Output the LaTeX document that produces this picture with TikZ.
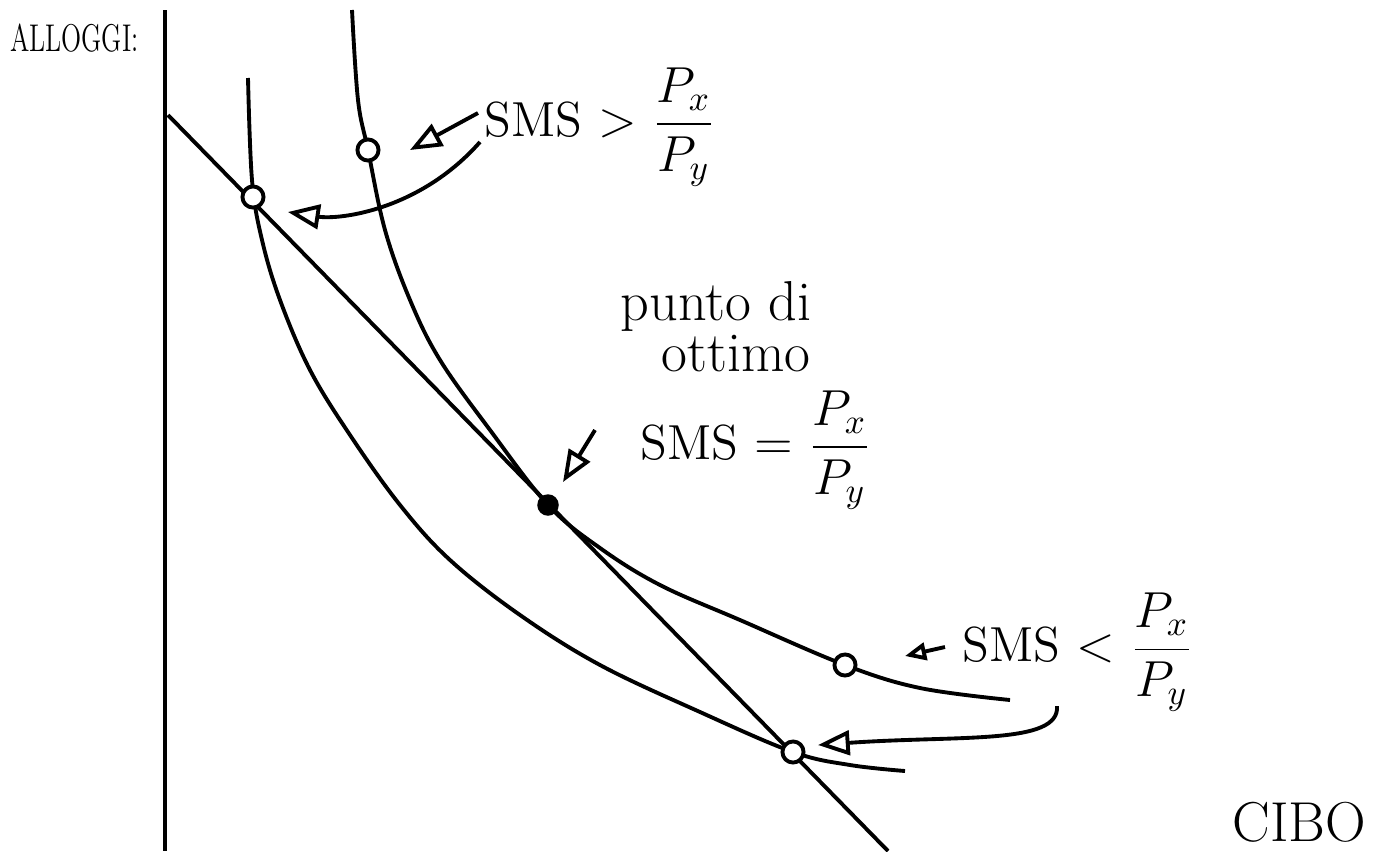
\documentclass[tikz,border=0pt]{standalone}
\usepackage{tikz}
\usepackage{graphicx}
\usepackage{xcolor}
\usetikzlibrary{arrows.meta}
\newcommand{\FT}{\fontsize{14}{17}\selectfont}
\newcommand{\FP}{\fontsize{11}{13}\selectfont}

\begin{document}
\begin{tikzpicture}[x=0.01cm,y=-0.01cm]
\tikzstyle{testo}=[draw=none,fill=none,black,font=\FT,inner sep=1pt]
\tikzstyle{linea}=[black,line width=1.1pt]
\tikzstyle{punto}=[draw=black,line width=1.1pt,fill=white,circle,inner sep=0pt,minimum size=6pt]
\tikzstyle{freccia}=[black,line width=1.1pt,-{Triangle[open,length=9pt,width=7pt]}]

\useasboundingbox (0,0) rectangle (1389,851);

% assi
\coordinate (O) at (165,851);
\coordinate (Ytop) at (165,10);
\draw[linea] (Ytop) -- (O);

% vincolo di bilancio
\coordinate (V1) at (168,115);
\coordinate (V2) at (888,851);
\draw[linea] (V1) -- (V2);

% curve di indifferenza
\draw[linea] plot[smooth,tension=0.6] coordinates {(248,78) (252,180) (262,240) (280,300) (310,370) (350,435) (400,505) (450,560) (520,615) (600,665) (700,712) (793,752) (850,765) (905,771)};
\draw[linea] plot[smooth,tension=0.6] coordinates {(352,10) (358,100) (368,150) (385,230) (410,300) (440,360) (490,430) (548,505) (600,548) (660,585) (740,620) (845,665) (920,688) (1010,700)};

% punti
\node[punto] (A) at (368,150) {};
\node[punto] (B) at (253,197) {};
\node[punto,fill=black,minimum size=5pt] (E) at (548,505) {};
\node[punto] (C) at (845,665) {};
\node[punto] (D) at (793,752) {};

% testi
\node[testo,font=\FP,anchor=west] (ALL) at (6,38) {\scalebox{0.68}[1]{ALLOGGI:}};
\node[testo,anchor=west] (SM1) at (480,127) {SMS $>$ $\displaystyle\frac{P_x}{P_y}$};
\node[testo,font=\fontsize{16}{19}\selectfont] (PO1) at (716,306) {punto di};
\node[testo,font=\fontsize{16}{19}\selectfont] (PO2) at (736,354) {ottimo};
\node[testo,anchor=west] (SM2) at (636,450) {SMS $=$ $\displaystyle\frac{P_x}{P_y}$};
\node[testo,anchor=west] (SM3) at (958,652) {SMS $<$ $\displaystyle\frac{P_x}{P_y}$};
\node[testo,font=\fontsize{16}{19}\selectfont,anchor=east] (CIB) at (1370,822) {CIBO};

% frecce
\coordinate (F1) at (478,113);
\coordinate (F1b) at (410,150);
\draw[freccia] (F1) -- (F1b);
\coordinate (F2) at (480,142);
\coordinate (F2b) at (288,212);
\draw[freccia] (F2) .. controls (420,210) and (340,220) .. (F2b);
\coordinate (F3) at (595,430);
\coordinate (F3b) at (563,482);
\draw[freccia] (F3) -- (F3b);
\coordinate (F4) at (945,647);
\coordinate (F4b) at (905,656);
\draw[freccia,-{Triangle[open,length=6pt,width=5pt]}] (F4) -- (F4b);
\coordinate (F5) at (1057,706);
\coordinate (F5b) at (818,745);
\draw[freccia] (F5) .. controls (1060,745) and (960,735) .. (F5b);
\end{tikzpicture}
\end{document}
